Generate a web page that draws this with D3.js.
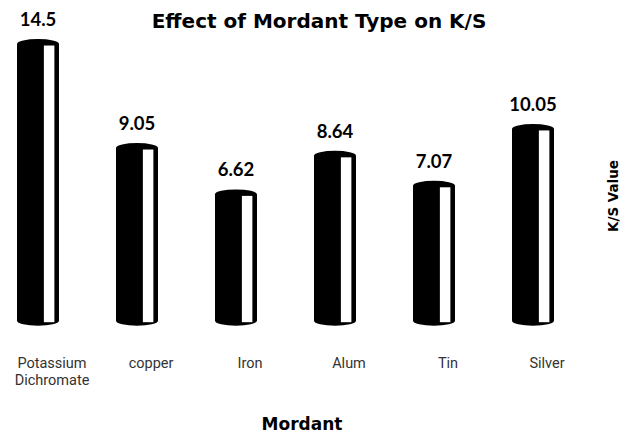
<!DOCTYPE html>
<html>
<head>
<meta charset="utf-8">
<script src="https://cdn.jsdelivr.net/npm/d3@7"></script>
<style>
  body { margin: 0; background: #fff; }
  svg { display: block; }
</style>
</head>
<body>
<div id="chart"></div>
<script>
// data
var mordants = ["Potassium Dichromate", "copper", "Iron", "Alum", "Tin", "Silver"];
var ksValues = [14.5, 9.05, 6.62, 8.64, 7.07, 10.05];
var valueLabels = ["14.5", "9.05", "6.62", "8.64", "7.07", "10.05"];

var width = 625, height = 437;

var svg = d3.select("#chart").append("svg")
    .attr("width", width)
    .attr("height", height);

var x = d3.scalePoint()
    .domain(mordants)
    .range([-11.5, 582.5])
    .padding(0.5);

var y = d3.scaleLinear()
    .domain([0, 16])
    .range([320.7, 15.4]);

var barW = 42, ry = 5;

var bars = svg.selectAll(".bar")
    .data(mordants)
    .enter().append("g")
    .attr("class", "bar")
    .attr("transform", function(d){ return "translate(" + (x(d) - barW/2) + ",0)"; });

// body
bars.append("rect")
    .attr("x", 0)
    .attr("width", barW)
    .attr("y", function(d, i){ return y(ksValues[i]); })
    .attr("height", function(d, i){ return y(0) - y(ksValues[i]); })
    .attr("fill", "#000");

// bottom ellipse
bars.append("ellipse")
    .attr("cx", barW/2)
    .attr("cy", y(0))
    .attr("rx", barW/2)
    .attr("ry", ry)
    .attr("fill", "#000");

// top ellipse
bars.append("ellipse")
    .attr("cx", barW/2)
    .attr("cy", function(d, i){ return y(ksValues[i]); })
    .attr("rx", barW/2)
    .attr("ry", ry)
    .attr("fill", "#000");

// highlight stripe
bars.append("rect")
    .attr("x", barW*0.64)
    .attr("width", barW*0.25)
    .attr("y", function(d, i){ return y(ksValues[i]) + 1.5; })
    .attr("height", function(d, i){ return y(0) - y(ksValues[i]); })
    .attr("fill", "#fff");

// value labels
svg.selectAll(".val")
    .data(mordants)
    .enter().append("text")
    .attr("class", "val")
    .attr("x", function(d){ return x(d); })
    .attr("y", function(d, i){ return y(ksValues[i]) - 18; })
    .attr("text-anchor", "middle")
    .style("font-family", "Lato, sans-serif")
    .style("font-weight", "bold")
    .style("font-size", "18.5px")
    .text(function(d, i){ return valueLabels[i]; });

// category labels
var cats = svg.selectAll(".cat")
    .data(mordants)
    .enter().append("text")
    .attr("class", "cat")
    .attr("x", function(d){ return x(d) + 14; })
    .attr("y", 368)
    .attr("text-anchor", "middle")
    .style("font-family", "Roboto, sans-serif")
    .style("font-size", "14.5px")
    .style("fill", "#333");

cats.selectAll("tspan")
    .data(function(d){ return d === "Potassium Dichromate" ? ["Potassium", "Dichromate"] : [d]; })
    .enter().append("tspan")
    .attr("x", function(){ return d3.select(this.parentNode).attr("x"); })
    .attr("dy", function(d, i){ return i === 0 ? 0 : 17; })
    .text(function(d){ return d; });

// title
svg.append("text")
    .attr("x", 319)
    .attr("y", 28)
    .attr("text-anchor", "middle")
    .style("font-family", "'DejaVu Sans', sans-serif")
    .style("font-weight", "bold")
    .style("font-size", "20px")
    .text("Effect of Mordant Type on K/S");

// x axis title
svg.append("text")
    .attr("x", 302)
    .attr("y", 430)
    .attr("text-anchor", "middle")
    .style("font-family", "'DejaVu Sans', sans-serif")
    .style("font-weight", "bold")
    .style("font-size", "17px")
    .text("Mordant");

// y axis title
svg.append("text")
    .attr("transform", "translate(618,196) rotate(-90)")
    .attr("text-anchor", "middle")
    .style("font-family", "'DejaVu Sans', sans-serif")
    .style("font-weight", "bold")
    .style("font-size", "13.5px")
    .text("K/S Value");
</script>
</body>
</html>
